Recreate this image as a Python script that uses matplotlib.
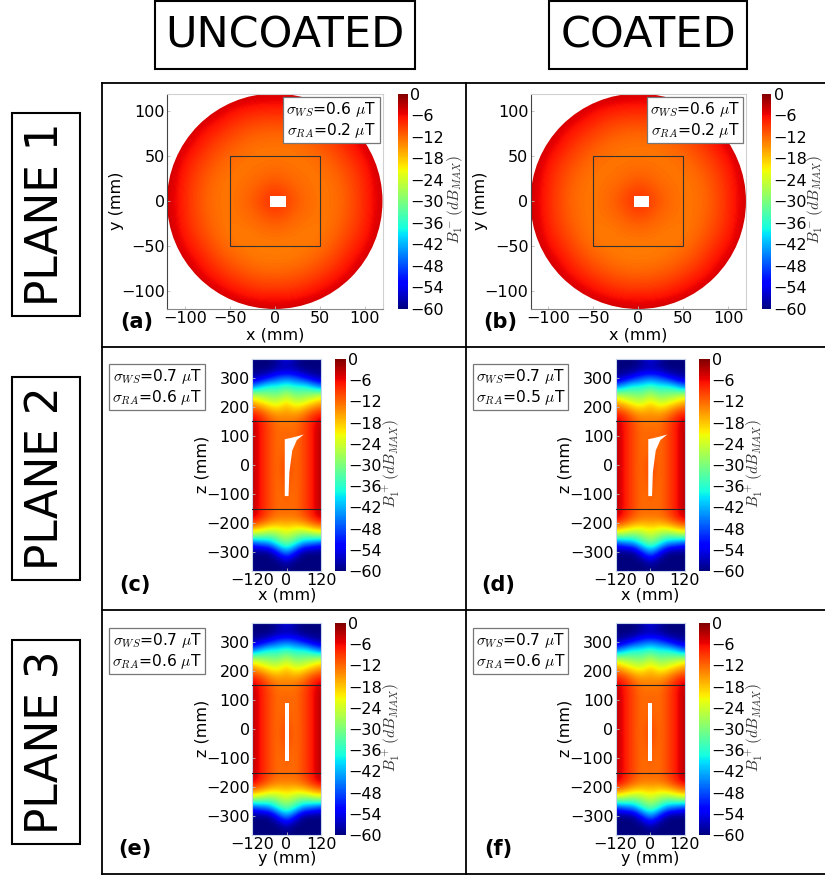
import numpy as np
import matplotlib
matplotlib.use("Agg")
import matplotlib.pyplot as plt
from matplotlib.patches import Rectangle, Circle, Polygon

W, H = 825, 876
plt.rcParams['mathtext.fontset'] = 'cm'
plt.rcParams['axes.unicode_minus'] = True

# dB values, plane 1, rows y=120..-120, cols x=-120..120 (20 mm step)
plane1_db = [
    [-3.0, -3.0, -3.0, -3.0, -3.0, -3.5, -4.0, -3.5, -3.0, -3.0, -3.0, -3.0, -3.0],
    [-3.0, -3.0, -3.0, -5.0, -7.0, -8.0, -8.0, -8.0, -7.0, -5.0, -3.0, -3.0, -3.0],
    [-3.0, -3.0, -6.0, -8.0, -10.0, -11.0, -11.5, -11.0, -10.0, -8.0, -6.0, -3.0, -3.0],
    [-3.0, -5.0, -8.0, -10.5, -12.0, -13.0, -13.0, -13.0, -12.0, -10.5, -8.0, -5.0, -3.0],
    [-3.0, -7.0, -10.0, -12.0, -13.0, -12.8, -12.5, -12.8, -13.0, -12.0, -10.0, -7.0, -3.0],
    [-3.5, -8.0, -11.0, -13.0, -12.8, -12.0, -10.5, -12.0, -12.8, -13.0, -11.0, -8.0, -3.5],
    [-4.0, -8.0, -11.5, -13.0, -12.5, -10.5, -7.0, -10.5, -12.5, -13.0, -11.5, -8.0, -4.0],
    [-3.5, -8.0, -11.0, -13.0, -12.8, -12.0, -10.5, -12.0, -12.8, -13.0, -11.0, -8.0, -3.5],
    [-3.0, -7.0, -10.0, -12.5, -13.5, -13.0, -12.8, -13.0, -13.5, -12.5, -10.0, -7.0, -3.0],
    [-3.0, -5.0, -8.0, -11.0, -12.5, -13.5, -13.5, -13.5, -12.5, -11.0, -8.0, -5.0, -3.0],
    [-3.0, -3.0, -6.0, -8.5, -10.5, -11.5, -12.0, -11.5, -10.5, -8.5, -6.0, -3.0, -3.0],
    [-3.0, -3.0, -3.0, -5.0, -7.0, -8.5, -8.5, -8.5, -7.0, -5.0, -3.0, -3.0, -3.0],
    [-3.0, -3.0, -3.0, -3.0, -3.0, -3.5, -4.0, -3.5, -3.0, -3.0, -3.0, -3.0, -3.0],
]

# dB values for the long planes, one list per |x|, z=360..-360 (30 mm step)
col_0 = [-54, -58, -46, -34, -25, -18, -15, -13, -12, -11.5, -11.5, -10.5, -9.5, -9.5, -10.5, -11.5, -11.5, -12, -13, -18, -24, -31, -43, -56, -60]
col_30 = [-58, -58, -48, -37, -30, -23, -16, -13, -12.5, -12.5, -12.5, -12.5, -12.5, -12.5, -12.5, -12.5, -12.5, -12.5, -13, -19, -28, -36, -52, -60, -60]
col_60 = [-60, -60, -52, -36, -29, -21, -14, -10.5, -10, -10, -10, -10, -10, -10, -10, -10, -10, -10, -11, -18, -30, -44, -60, -60, -60]
col_90 = [-60, -60, -56, -40, -27, -18, -10, -7, -7, -7, -7, -7, -7, -7, -7, -7, -7, -7, -7.5, -15, -28, -46, -60, -60, -60]
col_120 = [-60, -60, -58, -46, -24, -15, -8, -3.5, -2.5, -2.5, -2.5, -2.5, -2.5, -2.5, -2.5, -2.5, -2.5, -2.5, -3.5, -13, -26, -50, -60, -60, -60]
axial_cols = [col_120, col_90, col_60, col_30, col_0, col_30, col_60, col_90, col_120]

# outline of the white region in plane 2, and plane 3 bar, mm
sliver_x = [-6, -6, 10, 35, 60, 36, 20, 10, 7]
sliver_z = [-107, 89, 92, 98, 105, 86, 50, -24, -107]
bar_x = [-6, 8, 8, -6]
bar_z = [-109, -109, 91, 91]
hole_x = [-5, 12.5, 12.5, -5]
hole_y = [-6, -6, 5.5, 5.5]

cbar_ticks = list(range(0, -61, -6))
plane1_stats = [("0.6", "0.2"), ("0.6", "0.2")]
plane2_stats = [("0.7", "0.6"), ("0.7", "0.5")]
plane3_stats = [("0.7", "0.6"), ("0.7", "0.6")]

fs = 11.5
fig = plt.figure(figsize=(W / 100, H / 100), dpi=100)


def px_axes(x0, y0, x1, y1):
    return fig.add_axes([x0 / W, 1 - y1 / H, (x1 - x0) / W, (y1 - y0) / H])


def style_axes(ax):
    for side in ['top', 'right']:
        ax.spines[side].set_color('#d0d0d0')
    ax.spines['left'].set_color('#444444')
    ax.spines['bottom'].set_color('#888888')
    ax.tick_params(direction='in', length=2, width=0.6, color='#bbbbbb', labelsize=fs, pad=1.5)


def add_colorbar(im, x0, y0, x1, y1):
    cax = px_axes(x0, y0, x1, y1)
    cb = fig.colorbar(im, cax=cax)
    cb.set_ticks(cbar_ticks)
    cb.ax.tick_params(length=0, labelsize=fs, pad=1.5)
    cb.outline.set_visible(False)


def stat_text(x, y, ws, ra):
    over.text(x, y, "$\\sigma_{WS}$=%s $\\mu$T\n$\\sigma_{RA}$=%s $\\mu$T" % (ws, ra),
              fontsize=fs - 0.3, ha='center', va='center', linespacing=1.1,
              bbox=dict(boxstyle='square,pad=0.2', fc='white', ec='#777777', lw=0.9), zorder=10)


def draw_plane1(dx, stats, letter):
    ax = px_axes(166.5 + dx, 93.5, 383 + dx, 309)
    data = np.array(plane1_db)
    im = ax.imshow(data, cmap='jet', vmin=-60, vmax=0, interpolation='bicubic',
                   extent=[-130, 130, -130, 130], origin='upper', zorder=1)
    circ = Circle((0, 0), 120, transform=ax.transData, fc='none', ec='none')
    ax.add_patch(circ)
    im.set_clip_path(circ)
    ax.add_patch(Polygon(np.column_stack([hole_x, hole_y]), fc='white', ec='none', zorder=3))
    ax.add_patch(Rectangle((-50, -50), 100, 100, fc='none', ec='#333333', lw=0.8, zorder=4))
    ax.set_xlim(-120, 120)
    ax.set_ylim(-120, 120)
    ax.set_xticks([-100, -50, 0, 50, 100])
    ax.set_yticks([-100, -50, 0, 50, 100])
    style_axes(ax)
    add_colorbar(im, 398 + dx, 93.5, 408 + dx, 309)
    over.text(117 + dx, 201, "y (mm)", rotation=90, fontsize=fs, ha='center', va='center')
    over.text(275 + dx, 335, "x (mm)", fontsize=fs, ha='center', va='center')
    over.text(min(455 + dx, 815), 200, r"$B_1^-\,(dB_{MAX})$", rotation=90, fontsize=fs - 0.5,
              color='#333333', ha='center', va='center')
    over.text(137 + dx, 322, letter, fontsize=15, fontweight='bold', ha='center', va='center')
    stat_text(331.5 + dx, 120, stats[0], stats[1])


def draw_axial(dx, top, hole_xs, hole_zs, stats, letter, xname):
    bot = top + 212
    mid = top + 106
    ax = px_axes(252 + dx, top, 321 + dx, bot)
    data = np.array(axial_cols).T
    im = ax.imshow(data, cmap='jet', vmin=-60, vmax=0, interpolation='bicubic',
                   extent=[-135, 135, -375, 375], origin='upper', aspect='auto', zorder=1)
    ax.add_patch(Polygon(np.column_stack([hole_xs, hole_zs]), fc='white', ec='none', zorder=3))
    ax.axhline(150, color='#222222', lw=0.8, zorder=4)
    ax.axhline(-150, color='#222222', lw=0.8, zorder=4)
    ax.set_xlim(-120, 120)
    ax.set_ylim(-365, 365)
    ax.set_xticks([-120, 0, 120])
    ax.set_yticks([-300, -200, -100, 0, 100, 200, 300])
    style_axes(ax)
    for side in ax.spines:
        ax.spines[side].set_color('#c8d4e8')
    add_colorbar(im, 335 + dx, top, 346 + dx, bot)
    over.text(202 + dx, mid - 1, "z (mm)", rotation=90, fontsize=fs, ha='center', va='center')
    over.text(287 + dx, bot + 24, xname, fontsize=fs, ha='center', va='center')
    over.text(391 + dx, mid - 1, r"$B_1^+\,(dB_{MAX})$", rotation=90, fontsize=fs - 0.5, color='#333333',
              ha='center', va='center')
    over.text(135 + dx, bot + 14, letter, fontsize=15, fontweight='bold', ha='center', va='center')
    stat_text(157 + dx, top + 28, stats[0], stats[1])


# pixel overlay for frames and headings
over = fig.add_axes([0, 0, 1, 1], zorder=5)
over.set_xlim(0, W)
over.set_ylim(H, 0)
over.axis('off')
over.patch.set_alpha(0)

for y in [83, 347, 610, 874]:
    over.plot([102, 825], [y, y], color='black', lw=1.3)
over.plot([102, 102], [83, 874], color='black', lw=1.3)
over.plot([466, 466], [83, 874], color='black', lw=1.3)

headings = [("UNCOATED", 155, 415), ("COATED", 549, 747)]
for name, x0, x1 in headings:
    over.add_patch(Rectangle((x0, 1), x1 - x0, 68, fc='white', ec='black', lw=1.5))
    over.text((x0 + x1) / 2, 35, name, fontsize=31, ha='center', va='center')

planes = [("PLANE 1", 113, 316), ("PLANE 2", 377, 580), ("PLANE 3", 640, 844)]
for name, y0, y1 in planes:
    over.add_patch(Rectangle((12, y0), 68, y1 - y0, fc='white', ec='black', lw=1.5))
    over.text(46, (y0 + y1) / 2, name, fontsize=31.5, rotation=90, ha='center', va='center')

dx_right = 363.5
draw_plane1(0, plane1_stats[0], "(a)")
draw_plane1(dx_right, plane1_stats[1], "(b)")
draw_axial(0, 359, sliver_x, sliver_z, plane2_stats[0], "(c)", "x (mm)")
draw_axial(dx_right, 359, sliver_x, sliver_z, plane2_stats[1], "(d)", "x (mm)")
draw_axial(0, 623, bar_x, bar_z, plane3_stats[0], "(e)", "y (mm)")
draw_axial(dx_right, 623, bar_x, bar_z, plane3_stats[1], "(f)", "y (mm)")

fig.savefig("out.png", dpi=100)
plt.close(fig)
